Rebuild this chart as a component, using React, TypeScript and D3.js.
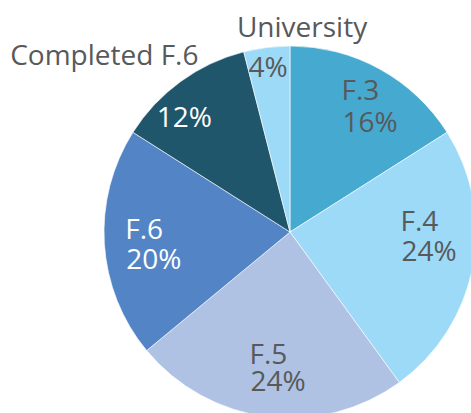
import * as d3 from 'd3';
import React, { useEffect, useRef } from 'react';

const categories = ['F.3', 'F.4', 'F.5', 'F.6', 'Completed F.6', 'University'];
const shares = [16, 24, 24, 20, 12, 4];
const sliceColors = ['#46a9cf', '#9cdaf7', '#afc2e3', '#5385c6', '#1f566b', '#9cdaf7'];
const labelColors = ['#58595b', '#58595b', '#58595b', '#ffffff', '#ffffff', '#58595b'];
// names of the two small slices sit outside the pie
const nameOutside = [false, false, false, false, true, true];

// nudges for the label blocks (relative to the arc centroids)
const inLabelNudge = [[-16, -9, 32], [-27, -27, 30], [-23, -7, 27], [-25, -2, 30], [-51, 8, 0], [-24, -16, 0]];
const outLabelNudge: Record<string, [number, number, string]> = {
  'Completed F.6': [26, -5, 'end'],
  'University': [-28, 3, 'start'],
};

const W = 471;
const H = 413;
const cx = 290;
const cy = 232;
const radius = 186;
const font = '"Open Sans", sans-serif';
const fontSize = 28;

export default function App() {
  const ref = useRef<SVGSVGElement>(null);

  useEffect(() => {
    const svg = d3.select(ref.current);
    svg.selectAll('*').remove();

    const data = categories.map((c, i) => ({ name: c, value: shares[i], i }));
    const pie = d3.pie<any>().value(d => d.value).sort(null);
    const arcs = pie(data);
    const arc = d3.arc<any>().innerRadius(0).outerRadius(radius);
    const labelArc = d3.arc<any>().innerRadius(140).outerRadius(140);
    const outerArc = d3.arc<any>().innerRadius(200).outerRadius(200);

    const g = svg.append('g').attr('transform', `translate(${cx},${cy})`);

    g.selectAll('path.slice')
      .data(arcs)
      .enter()
      .append('path')
      .attr('class', 'slice')
      .attr('d', arc)
      .attr('fill', d => sliceColors[d.data.i])
      .attr('stroke', '#ffffff')
      .attr('stroke-width', 0.6);

    const inLabels = g.selectAll('text.in')
      .data(arcs)
      .enter()
      .append('text')
      .attr('class', 'in')
      .attr('font-family', font)
      .attr('font-size', fontSize)
      .attr('fill', d => labelColors[d.data.i])
      .attr('transform', d => {
        const [x, y] = labelArc.centroid(d);
        const n = inLabelNudge[d.data.i];
        return `translate(${x + n[0]},${y + n[1]})`;
      });

    inLabels.each(function (d) {
      const t = d3.select(this);
      const n = inLabelNudge[d.data.i];
      if (nameOutside[d.data.i]) {
        t.append('tspan').attr('x', 0).attr('y', 0).text(`${d.data.value}%`);
      } else {
        t.append('tspan').attr('x', 0).attr('y', 0).text(d.data.name);
        t.append('tspan').attr('x', 1).attr('y', n[2]).text(`${d.data.value}%`);
      }
    });

    g.selectAll('text.out')
      .data(arcs.filter(d => nameOutside[d.data.i]))
      .enter()
      .append('text')
      .attr('class', 'out')
      .attr('font-family', font)
      .attr('font-size', fontSize)
      .attr('fill', '#58595b')
      .attr('text-anchor', d => outLabelNudge[d.data.name][2])
      .attr('x', d => outerArc.centroid(d)[0] + outLabelNudge[d.data.name][0])
      .attr('y', d => outerArc.centroid(d)[1] + outLabelNudge[d.data.name][1])
      .text(d => d.data.name);
  }, []);

  return (
    <svg
      ref={ref}
      width={W}
      height={H}
      style={{ position: 'absolute', left: 0, top: 0, background: '#ffffff' }}
    />
  );
}
